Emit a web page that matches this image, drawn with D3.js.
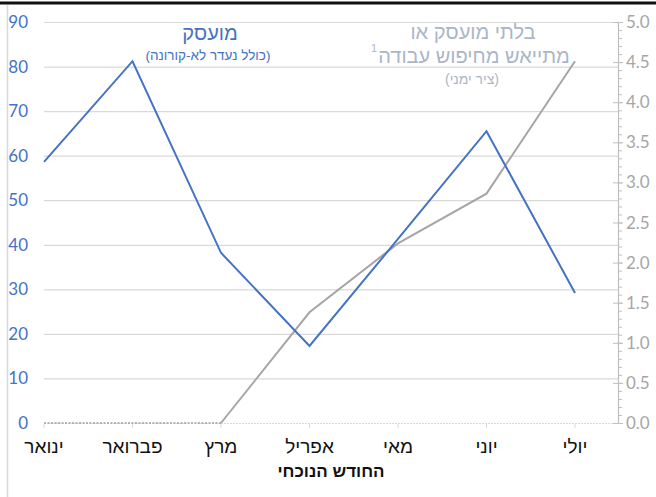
<!DOCTYPE html>
<html><head><meta charset="utf-8">
<script src="https://cdn.jsdelivr.net/npm/d3@7/dist/d3.min.js"></script>
<style>body{margin:0;background:#fff}svg{display:block}</style>
</head><body>
<script>
const months = ["ינואר","פברואר","מרץ","אפריל","מאי","יוני","יולי"];
const employed = [58.6, 81.2, 38.2, 17.3, 41.3, 65.5, 29.2];
const discouraged = [0, 0, 0, 1.38, 2.24, 2.86, 4.51];
const leftTicks = [0,10,20,30,40,50,60,70,80,90];
const rightTicks = [0,0.5,1,1.5,2,2.5,3,3.5,4,4.5,5];

const W = 656, H = 497;
const svg = d3.select("body").append("svg").attr("width", W).attr("height", H);
const heb = "'Liberation Sans', Arial, sans-serif";
const num = "Lato, 'Open Sans', sans-serif";
const blue = "#4472c4", gray = "#a5a5a5";

const x = d3.scalePoint().domain(months).range([44, 575]);
const plotRight = 618;
const yL = d3.scaleLinear().domain([0, 90]).range([423, 22]);
const yR = d3.scaleLinear().domain([0, 5]).range([423, 22]);

// frame
svg.append("line").attr("x1",0).attr("x2",W).attr("y1",3).attr("y2",3).attr("stroke","#111").attr("stroke-width",3);
svg.append("line").attr("x1",7.5).attr("x2",7.5).attr("y1",5).attr("y2",H).attr("stroke","#d9d9d9").attr("stroke-width",1.5);

// gridlines
svg.append("g").selectAll("line").data(leftTicks.filter(d=>d>0)).join("line")
  .attr("x1",44).attr("x2",plotRight).attr("y1",d=>yL(d)+0.5).attr("y2",d=>yL(d)+0.5)
  .attr("stroke","#d9d9d9").attr("stroke-width",1.2);

// x axis line (dotted light)
svg.append("line").attr("x1",44).attr("x2",plotRight).attr("y1",yL(0)+0.5).attr("y2",yL(0)+0.5)
  .attr("stroke","#d9d9d9").attr("stroke-width",1.2).attr("stroke-dasharray","2,1");
svg.append("g").selectAll("line").data(months).join("line")
  .attr("x1",d=>x(d)).attr("x2",d=>x(d)).attr("y1",yL(0)+1).attr("y2",yL(0)+5)
  .attr("stroke","#d9d9d9");

// left axis labels
svg.append("g").selectAll("text").data(leftTicks).join("text")
  .attr("x",28).attr("y",d=>yL(d)+6).attr("text-anchor","end")
  .attr("font-family",num).attr("font-size",17).attr("fill",blue).text(d=>d);

// right axis
const ra = svg.append("g");
ra.append("line").attr("x1",plotRight+0.5).attr("x2",plotRight+0.5).attr("y1",yR(5)).attr("y2",yR(0)).attr("stroke","#bfbfbf").attr("stroke-width",1.2);
const minor = d3.range(0, 51).map(i=>i/10);
ra.selectAll("line.mn").data(minor).join("line").attr("class","mn")
  .attr("x1",plotRight).attr("x2",plotRight+4).attr("y1",d=>yR(d)+0.5).attr("y2",d=>yR(d)+0.5).attr("stroke","#bfbfbf");
ra.selectAll("line.mj").data(rightTicks).join("line").attr("class","mj")
  .attr("x1",plotRight-5).attr("x2",plotRight+5).attr("y1",d=>yR(d)+0.5).attr("y2",d=>yR(d)+0.5).attr("stroke","#bfbfbf");
ra.selectAll("text").data(rightTicks).join("text")
  .attr("x",626).attr("y",d=>yR(d)+6)
  .attr("font-family",num).attr("font-size",17).attr("fill","#a6a6a6").text(d=>d.toFixed(1));

// series
const lineL = d3.line().x((d,i)=>x(months[i])).y(d=>yL(d));
const lineR = d3.line().x((d,i)=>x(months[i])).y(d=>yR(d));
const zeroIdx = discouraged.findIndex(v=>v>0) - 1;
svg.append("path").datum(discouraged.slice(0, zeroIdx+1)).attr("d", lineR)
  .attr("fill","none").attr("stroke","#a0a0a0").attr("stroke-width",1.5).attr("stroke-dasharray","2,1.5");
svg.append("path").datum(discouraged.map((v,i)=>[i,v]).slice(zeroIdx))
  .attr("d", d3.line().x(d=>x(months[d[0]])).y(d=>yR(d[1])))
  .attr("fill","none").attr("stroke",gray).attr("stroke-width",2);
svg.append("path").datum(employed).attr("d", lineL)
  .attr("fill","none").attr("stroke",blue).attr("stroke-width",2);

// category labels
svg.append("g").selectAll("text").data(months).join("text")
  .attr("x",d=>x(d)).attr("y",453).attr("text-anchor","middle").attr("direction","rtl")
  .attr("font-family",heb).attr("font-size",19).attr("fill","#111").text(d=>d);
svg.append("text").attr("x",331).attr("y",477).attr("text-anchor","middle").attr("direction","rtl")
  .attr("font-family",heb).attr("font-size",17).attr("font-weight","bold").attr("fill","#111").text("החודש הנוכחי");

// series titles
svg.append("text").attr("x",210).attr("y",40).attr("text-anchor","middle").attr("direction","rtl")
  .attr("font-family",heb).attr("font-size",20).attr("fill",blue).text("מועסק");
svg.append("text").attr("x",208).attr("y",60).attr("text-anchor","middle").attr("direction","rtl")
  .attr("font-family",heb).attr("font-size",13.5).attr("fill",blue).text("(כולל נעדר לא-קורונה)");
const tg = "#aab6c8";
svg.append("text").attr("x",473).attr("y",39).attr("text-anchor","middle").attr("direction","rtl")
  .attr("font-family",heb).attr("font-size",20).attr("fill",tg).text("בלתי מועסק או");
svg.append("text").attr("x",474).attr("y",63).attr("text-anchor","middle").attr("direction","rtl")
  .attr("font-family",heb).attr("font-size",20).attr("fill",tg).text("מתייאש מחיפוש עבודה");
svg.append("text").attr("x",377).attr("y",52).attr("text-anchor","end")
  .attr("font-family",heb).attr("font-size",11).attr("fill",tg).text("1");
svg.append("text").attr("x",472).attr("y",84).attr("text-anchor","middle").attr("direction","rtl")
  .attr("font-family",heb).attr("font-size",14).attr("fill",tg).text("(ציר ימני)");
</script>
</body></html>
